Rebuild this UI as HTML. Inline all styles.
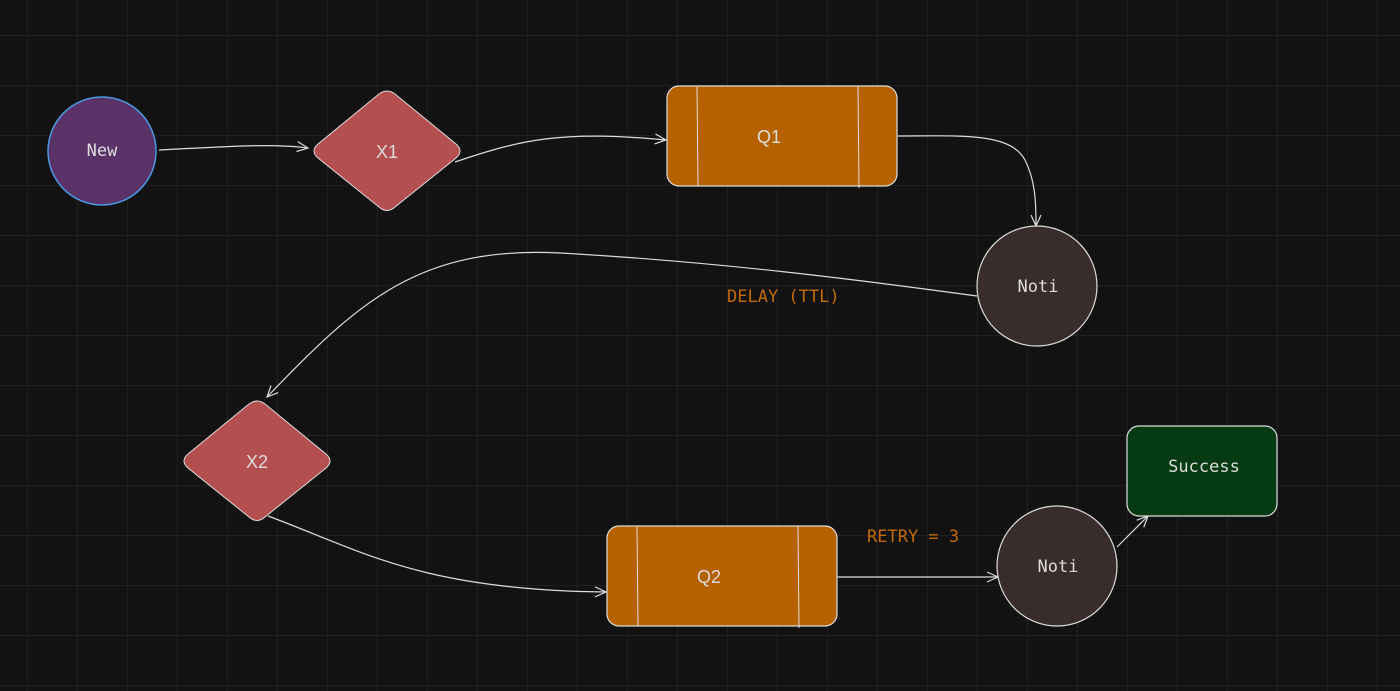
<!DOCTYPE html>
<html><head><meta charset="utf-8"><style>
html,body{margin:0;padding:0;background:#121212;}
svg{display:block}
</style></head><body>
<svg width="1400" height="691" viewBox="0 0 1400 691" xmlns="http://www.w3.org/2000/svg">
<defs>
<pattern id="g" x="27" y="35" width="50" height="50" patternUnits="userSpaceOnUse">
<path d="M0 0H50M0 0V50" stroke="#242424" stroke-width="1.5" fill="none"/>
</pattern>
<marker id="a" markerWidth="14" markerHeight="14" refX="12" refY="7" orient="auto" markerUnits="userSpaceOnUse">
<path d="M1 2 L12 7 L1 12" fill="none" stroke="#ddd" stroke-width="1.2"/>
</marker>
</defs>
<rect width="1400" height="691" fill="#121212"/>
<rect width="1400" height="691" fill="url(#g)"/>
<g font-family="Liberation Sans, sans-serif" fill="none" stroke="#ddd" stroke-width="1.2">
<!-- connectors -->
<path d="M159 150 C220 147 270 143 308 148" marker-end="url(#a)"/>
<path d="M455 162 C520 140 560 130 666 140" marker-end="url(#a)"/>
<path d="M898 136 C960 136 1010 132 1025 160 C1035 180 1036 200 1036 226" marker-end="url(#a)"/>
<path d="M977 296 C860 280 720 262 560 253 C420 246 360 300 267 397" marker-end="url(#a)"/>
<path d="M268 516 C360 550 420 590 606 592" marker-end="url(#a)"/>
<path d="M837 577 L998 577" marker-end="url(#a)"/>
<path d="M1117 547 L1148 516" marker-end="url(#a)"/>
</g>
<!-- New -->
<circle cx="102" cy="151" r="54" fill="#5b3268" stroke="#4a9be5" stroke-width="1.5"/>
<!-- X1 -->
<path d="M379 94 Q387 88 395 94 L456 144 Q464 151 456 158 L395 207 Q387 214 379 207 L318 158 Q310 151 318 144 Z" fill="#b44f4f" stroke="#ddd" stroke-width="1"/>
<!-- Q1 -->
<rect x="667" y="86" width="230" height="100" rx="12" fill="#b66100" stroke="#ddd" stroke-width="1.2"/>
<line x1="697" y1="87" x2="698" y2="186" stroke="#ddd" stroke-width="1"/>
<line x1="858" y1="86" x2="859" y2="188" stroke="#ddd" stroke-width="1"/>
<!-- Noti 1 -->
<circle cx="1037" cy="286" r="60" fill="#382d2b" stroke="#ddd" stroke-width="1.2"/>
<!-- X2 -->
<path d="M249 404 Q257 398 265 404 L326 454 Q334 461 326 468 L265 517 Q257 524 249 517 L188 468 Q180 461 188 454 Z" fill="#b44f4f" stroke="#ddd" stroke-width="1"/>
<!-- Q2 -->
<rect x="607" y="526" width="230" height="100" rx="12" fill="#b66100" stroke="#ddd" stroke-width="1.2"/>
<line x1="637" y1="527" x2="638" y2="626" stroke="#ddd" stroke-width="1"/>
<line x1="798" y1="526" x2="799" y2="628" stroke="#ddd" stroke-width="1"/>
<!-- Noti 2 -->
<circle cx="1057" cy="566" r="60" fill="#382d2b" stroke="#ddd" stroke-width="1.2"/>
<!-- Success -->
<rect x="1127" y="426" width="150" height="90" rx="12" fill="#053a12" stroke="#ddd" stroke-width="1.2"/>
<!-- text -->
<g fill="#ddd" text-anchor="middle" dominant-baseline="central">
<text x="102" y="151" font-family="DejaVu Sans Mono, monospace" font-size="17">New</text>
<text x="387" y="152" font-family="Liberation Sans, sans-serif" font-size="18">X1</text>
<text x="769" y="137" font-family="Liberation Sans, sans-serif" font-size="18">Q1</text>
<text x="1038" y="287" font-family="DejaVu Sans Mono, monospace" font-size="17">Noti</text>
<text x="257" y="462" font-family="Liberation Sans, sans-serif" font-size="18">X2</text>
<text x="709" y="577" font-family="Liberation Sans, sans-serif" font-size="18">Q2</text>
<text x="1058" y="567" font-family="DejaVu Sans Mono, monospace" font-size="17">Noti</text>
<text x="1204" y="467" font-family="DejaVu Sans Mono, monospace" font-size="17">Success</text>
</g>
<g fill="#c46a08" font-family="DejaVu Sans Mono, monospace" font-size="17" dominant-baseline="central">
<text x="727" y="297">DELAY (TTL)</text>
<text x="867" y="537">RETRY = 3</text>
</g>
</svg>
</body></html>
